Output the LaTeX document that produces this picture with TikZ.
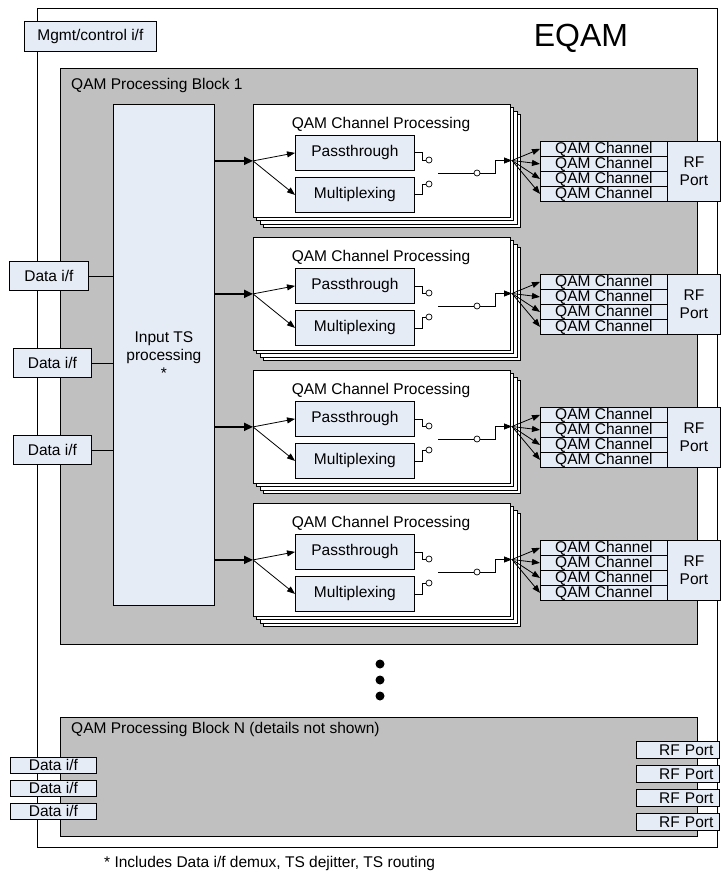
\documentclass[tikz,border=0pt]{standalone}
\usepackage{fontspec}
\setmainfont{Liberation Sans}
\usepackage{tikz}
\usetikzlibrary{arrows.meta}
\definecolor{cBox}{HTML}{E6ECF6}
\definecolor{cBlk}{HTML}{C0C0C0}
\newcommand{\lbl}{\fontsize{15.5}{18}\selectfont}
\tikzset{
  outerbox/.style={draw=black, fill=white, line width=0.8pt},
  blkbox/.style={draw=black, fill=cBlk, line width=0.8pt},
  ifbox/.style={draw=black, fill=cBox, line width=0.8pt, inner sep=0pt, font=\lbl, anchor=north west},
  cardbox/.style={draw=black, fill=white, line width=0.8pt},
  qrow/.style={ifbox, minimum width=127, minimum height=15},
  contact/.style={draw=black, fill=white, circle, inner sep=0pt, minimum size=6pt, line width=0.7pt},
  wire/.style={line width=0.8pt},
  thinarr/.style={line width=0.8pt, -{Triangle[length=8pt,width=6pt]}},
  fatarr/.style={line width=1.8pt, -{Triangle[length=9pt,width=8pt]}},
  bigdot/.style={fill=black, circle, inner sep=0pt, minimum size=9pt},
  plain/.style={font=\lbl, inner sep=0pt},
}
\newcommand{\chancard}[2]{%
  \begin{scope}[shift={(0,#2)}]
    \draw[cardbox] (263.5,10.5) rectangle (520.5,123.5);
    \draw[cardbox] (260,7) rectangle (517,120);
    \draw[cardbox] (256.5,3.5) rectangle (513.5,116.5);
    \node[cardbox, anchor=north west, minimum width=257, minimum height=113] (card#1) at (253,0) {};
    \node[plain] (cardlbl#1) at (381,20) {QAM Channel Processing};
    \node[ifbox, minimum width=119, minimum height=35] (pass#1) at (295,31) {Passthrough};
    \node[ifbox, minimum width=119, minimum height=35] (mux#1) at (295,73) {Multiplexing};
    \node[contact] (cpa#1) at (429,56) {};
    \node[contact] (cmx#1) at (429,80) {};
    \node[contact] (cout#1) at (477,69) {};
    \coordinate (cin#1) at (438,69);
    \coordinate (fan#1) at (512,56.5);
    \node[qrow] (qa#1) at (540,37) {QAM Channel};
    \node[qrow] (qb#1) at (540,52) {QAM Channel};
    \node[qrow] (qc#1) at (540,67) {QAM Channel};
    \node[qrow] (qd#1) at (540,82) {QAM Channel};
    \node[ifbox, minimum width=53, minimum height=60, align=center] (rf#1) at (667,37) {RF\\Port};
  \end{scope}
  \draw[fatarr] (card#1.west -| its.east) -- (card#1.west);
  \draw[thinarr] (card#1.west) -- (pass#1.west);
  \draw[thinarr] (card#1.west) -- (mux#1.west);
  \draw[wire] (pass#1.east) -- ++(8,0) |- (cpa#1.west);
  \draw[wire] (mux#1.east) -- ++(8,0) |- (cmx#1.west);
  \draw[wire] (cin#1) -- (cout#1.west);
  \draw[thinarr] (cout#1.east) -- ++(15,0) |- (fan#1);
  \foreach \qn in {qa,qb,qc,qd}{\draw[thinarr] (fan#1) -- (\qn#1.west);}
}

\begin{document}
\begin{tikzpicture}[x=1pt, y=-1pt]
\useasboundingbox (0,0) rectangle (722,874);
\fill[white] (0,0) rectangle (722,874);
\node[outerbox, anchor=north west, minimum width=680, minimum height=839] (eqam) at (37,8) {};
\node[font=\fontsize{32}{36}\selectfont, inner sep=0pt] (eqamlbl) at (581,38) {EQAM};
\node[ifbox, minimum width=132, minimum height=30] (mgmt) at (24,21) {Mgmt/control i/f};

\node[blkbox, anchor=north west, minimum width=637, minimum height=576] (blk1) at (60,68) {};
\node[plain, anchor=west] (blk1lbl) at (71,85) {QAM Processing Block 1};
\node[ifbox, minimum width=101, minimum height=501, align=center] (its) at (113,104) {Input TS\\processing\\*};
\node[ifbox, minimum width=79, minimum height=29] (din1) at (9,261) {Data i/f};
\node[ifbox, minimum width=78, minimum height=29] (din2) at (13,348) {Data i/f};
\node[ifbox, minimum width=78, minimum height=29] (din3) at (13,435) {Data i/f};
\draw[wire] (din1.east) -- (din1.east -| its.west);
\draw[wire] (din2.east) -- (din2.east -| its.west);
\draw[wire] (din3.east) -- (din3.east -| its.west);

\chancard{1}{104}
\chancard{2}{237}
\chancard{3}{370}
\chancard{4}{503}

\node[bigdot] (dot1) at (380,664) {};
\node[bigdot] (dot2) at (380,680) {};
\node[bigdot] (dot3) at (380,696) {};

\node[blkbox, anchor=north west, minimum width=637, minimum height=119] (blkN) at (60,717) {};
\node[plain, anchor=west] (blkNlbl) at (71,729) {QAM Processing Block N (details not shown)};
\node[ifbox, minimum width=86, minimum height=16] (dinN1) at (10,757) {Data i/f};
\node[ifbox, minimum width=86, minimum height=16] (dinN2) at (10,780) {Data i/f};
\node[ifbox, minimum width=86, minimum height=16] (dinN3) at (10,803) {Data i/f};
\node[ifbox, minimum height=17, text width=71, inner xsep=6, align=right] (rfN1) at (636,741) {RF Port};
\node[ifbox, minimum height=17, text width=71, inner xsep=6, align=right] (rfN2) at (636,765) {RF Port};
\node[ifbox, minimum height=17, text width=71, inner xsep=6, align=right] (rfN3) at (636,789) {RF Port};
\node[ifbox, minimum height=17, text width=71, inner xsep=6, align=right] (rfN4) at (636,813) {RF Port};

\node[plain, anchor=west] (note) at (104,863) {* Includes Data i/f demux, TS dejitter, TS routing};
\end{tikzpicture}
\end{document}
